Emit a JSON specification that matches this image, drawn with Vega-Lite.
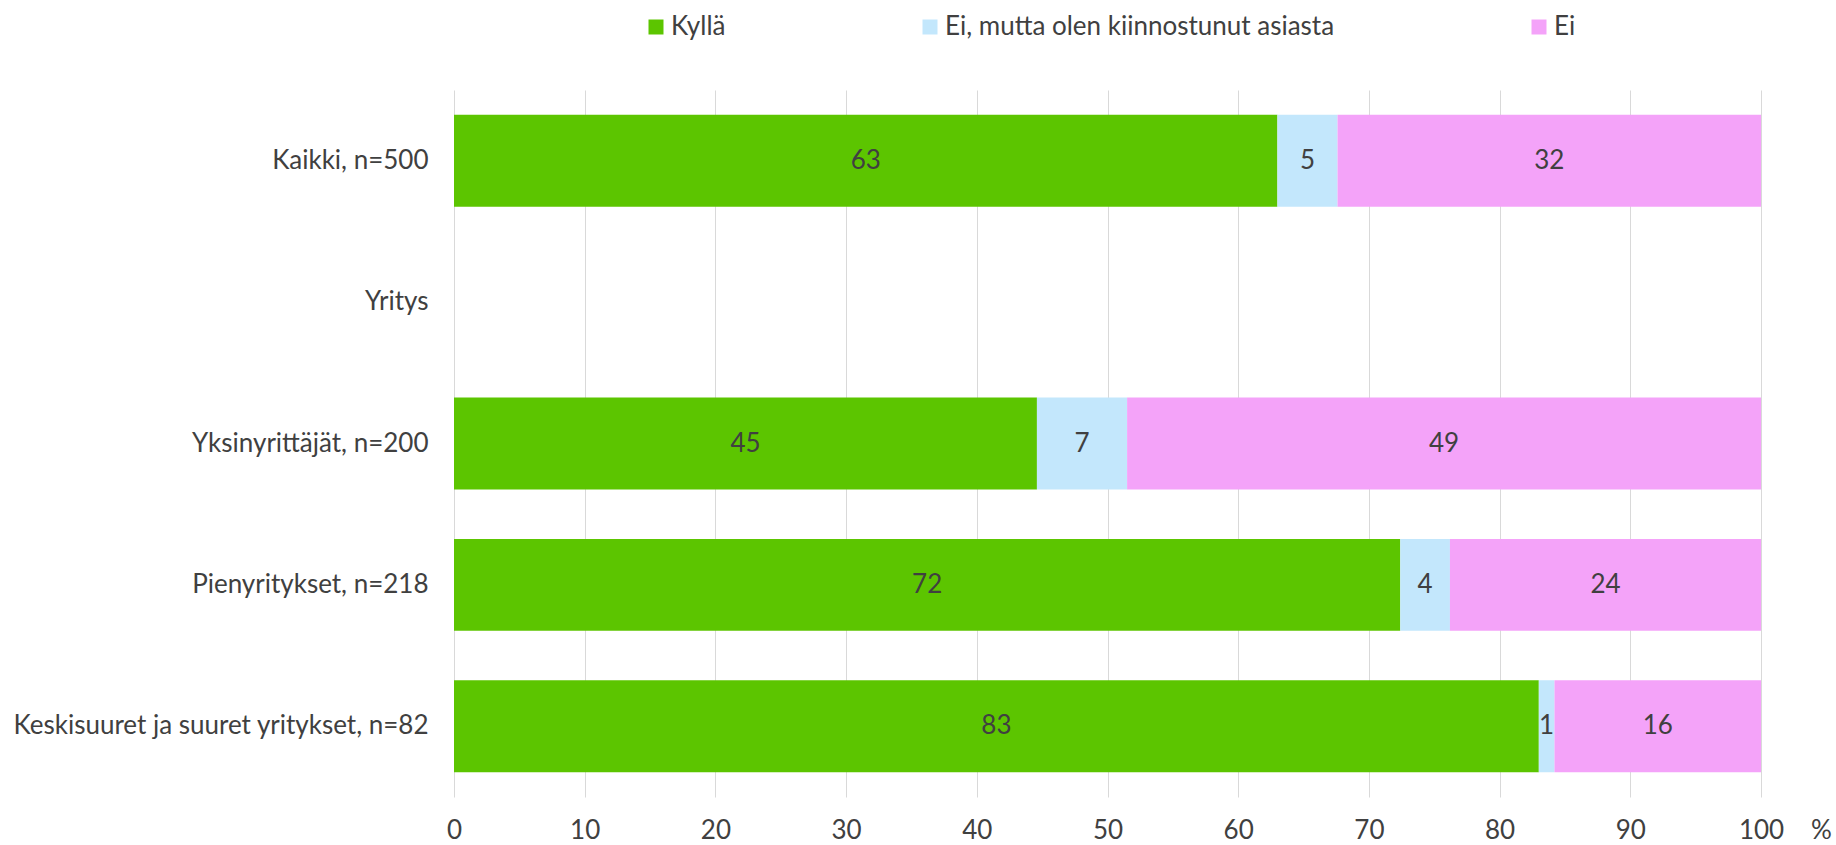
{
  "$schema": "https://vega.github.io/schema/vega-lite/v6.json",
  "width": 1307,
  "height": 707,
  "autosize": {"type": "none"},
  "padding": {"left": 454, "top": 90, "right": 75, "bottom": 48},
  "background": "white",
  "config": {
    "view": {"stroke": null},
    "font": "Lato",
    "text": {"font": "Lato"}
  },
  "data": {
    "values": [
      {"c": "Kaikki, n=500", "s": "Kyllä", "k": 1, "v": 63.0},
      {"c": "Kaikki, n=500", "s": "Ei, mutta olen kiinnostunut asiasta", "k": 2, "v": 4.6},
      {"c": "Kaikki, n=500", "s": "Ei", "k": 3, "v": 32.4},
      {"c": "Yksinyrittäjät, n=200", "s": "Kyllä", "k": 1, "v": 44.6},
      {"c": "Yksinyrittäjät, n=200", "s": "Ei, mutta olen kiinnostunut asiasta", "k": 2, "v": 6.9},
      {"c": "Yksinyrittäjät, n=200", "s": "Ei", "k": 3, "v": 48.5},
      {"c": "Pienyritykset, n=218", "s": "Kyllä", "k": 1, "v": 72.4},
      {"c": "Pienyritykset, n=218", "s": "Ei, mutta olen kiinnostunut asiasta", "k": 2, "v": 3.8},
      {"c": "Pienyritykset, n=218", "s": "Ei", "k": 3, "v": 23.8},
      {"c": "Keskisuuret ja suuret yritykset, n=82", "s": "Kyllä", "k": 1, "v": 83.0},
      {"c": "Keskisuuret ja suuret yritykset, n=82", "s": "Ei, mutta olen kiinnostunut asiasta", "k": 2, "v": 1.2},
      {"c": "Keskisuuret ja suuret yritykset, n=82", "s": "Ei", "k": 3, "v": 15.8}
    ]
  },
  "encoding": {
    "y": {
      "field": "c",
      "type": "nominal",
      "sort": null,
      "scale": {
        "domain": ["Kaikki, n=500", "Yritys", "Yksinyrittäjät, n=200", "Pienyritykset, n=218", "Keskisuuret ja suuret yritykset, n=82"],
        "paddingInner": 0.35,
        "paddingOuter": 0.175
      },
      "axis": {
        "title": null,
        "domain": false,
        "ticks": false,
        "tickSize": 0,
        "grid": false,
        "labelPadding": 26,
        "labelFontSize": 26,
        "labelFont": "Lato",
        "labelColor": "#404040",
        "labelLimit": 0
      }
    }
  },
  "layer": [
    {
      "mark": {"type": "bar"},
      "encoding": {
        "x": {
          "field": "v",
          "type": "quantitative",
          "stack": "zero",
          "scale": {"domain": [0, 100], "nice": false},
          "axis": {
            "values": [0, 10, 20, 30, 40, 50, 60, 70, 80, 90, 100],
            "grid": true,
            "gridColor": "#d9d9d9",
            "gridWidth": 1,
            "domain": false,
            "ticks": false,
            "tickSize": 0,
            "labelPadding": 20,
            "labelFontSize": 26,
            "labelFont": "Lato",
            "labelColor": "#404040",
            "labelFlush": false,
            "title": "%",
            "titleFont": "Lato",
            "titleFontSize": 26,
            "titleFontWeight": "normal",
            "titleColor": "#404040",
            "titleX": 1367,
            "titleY": 20,
            "titleAlign": "center",
            "titleBaseline": "top"
          }
        },
        "color": {
          "field": "s",
          "type": "nominal",
          "scale": {
            "domain": ["Kyllä", "Ei, mutta olen kiinnostunut asiasta", "Ei"],
            "range": ["#5cc500", "#c3e7fc", "#f4a3f9"]
          },
          "legend": {
            "orient": "none",
            "legendX": 189,
            "legendY": -76,
            "direction": "horizontal",
            "columns": 3,
            "columnPadding": 191,
            "title": null,
            "symbolType": "square",
            "symbolSize": 225,
            "symbolStrokeWidth": 0,
            "labelFontSize": 26,
            "labelFont": "Lato",
            "labelColor": "#404040",
            "labelOffset": 2,
            "labelLimit": 0
          }
        },
        "order": {"field": "k", "type": "quantitative"}
      }
    },
    {
      "transform": [
        {"stack": "v", "groupby": ["c"], "sort": [{"field": "k", "order": "ascending"}], "as": ["x0", "x1"]},
        {"calculate": "(datum.x0 + datum.x1) / 2", "as": "xm"}
      ],
      "mark": {"type": "text", "fontSize": 26, "font": "Lato", "color": "#404040", "align": "center", "baseline": "middle"},
      "encoding": {
        "x": {
          "field": "xm",
          "type": "quantitative",
          "scale": {"domain": [0, 100], "nice": false},
          "axis": {
            "values": [0, 10, 20, 30, 40, 50, 60, 70, 80, 90, 100],
            "grid": true,
            "gridColor": "#d9d9d9",
            "gridWidth": 1,
            "domain": false,
            "ticks": false,
            "tickSize": 0,
            "labelPadding": 20,
            "labelFontSize": 26,
            "labelFont": "Lato",
            "labelColor": "#404040",
            "labelFlush": false,
            "title": "%",
            "titleFont": "Lato",
            "titleFontSize": 26,
            "titleFontWeight": "normal",
            "titleColor": "#404040",
            "titleX": 1367,
            "titleY": 20,
            "titleAlign": "center",
            "titleBaseline": "top"
          }
        },
        "text": {"field": "v", "type": "quantitative", "format": ".0f"}
      }
    }
  ]
}
